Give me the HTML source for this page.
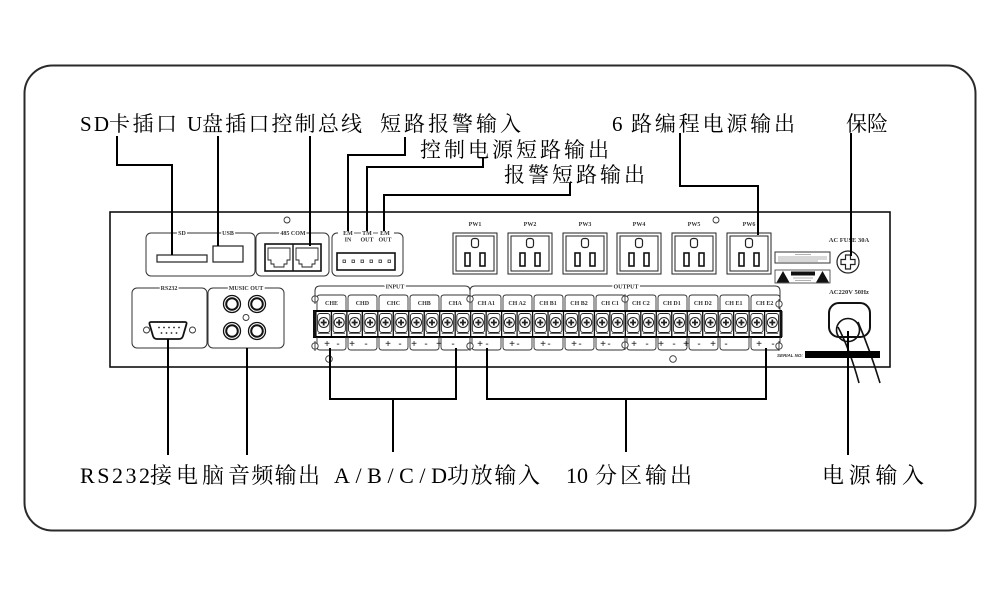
<!DOCTYPE html>
<html><head><meta charset="utf-8">
<style>
html,body{margin:0;padding:0;background:#fff;}
svg{display:block;}
.big{font-family:"Liberation Serif","Noto Serif CJK SC",serif;font-size:21px;fill:#000;}
.bot{font-family:"Liberation Serif","Noto Serif CJK SC",serif;font-size:22px;fill:#000;}
.sm{font-family:"Liberation Serif",serif;font-size:6px;font-weight:bold;fill:#333;text-anchor:middle;stroke:#fff;stroke-width:3px;paint-order:stroke;}
.pm{font-family:"Liberation Sans",sans-serif;font-size:10px;fill:#111;text-anchor:middle;}
</style></head>
<body>
<svg width="1000" height="595" viewBox="0 0 1000 595" xmlns="http://www.w3.org/2000/svg">
<defs>
<g id="t">
 <rect x="0" y="0" width="15.47" height="26" fill="#fff" stroke="#111" stroke-width="1.2"/>
 <rect x="1.6" y="2.5" width="12.3" height="19" rx="2.5" fill="none" stroke="#222" stroke-width="0.9"/>
 <circle cx="7.7" cy="11.5" r="5" fill="none" stroke="#222" stroke-width="1"/>
 <path d="M4.7 11.5h6M7.7 8.5v6" stroke="#222" stroke-width="1.8"/>
 <path d="M2 22.5h11.5" stroke="#444" stroke-width="0.8"/>
</g>
<g id="sock">
 <rect x="0" y="0" width="44" height="41" fill="#fff" stroke="#222" stroke-width="1"/>
 <rect x="3" y="3" width="38" height="35" fill="none" stroke="#222" stroke-width="1"/>
 <rect x="18.5" y="5.5" width="7" height="9" rx="2.5" fill="none" stroke="#222" stroke-width="1.2"/>
 <rect x="12" y="20" width="5" height="13" fill="none" stroke="#111" stroke-width="1.6"/>
 <rect x="27" y="20" width="5" height="13" fill="none" stroke="#111" stroke-width="1.6"/>
</g>
<g id="hole">
 <circle cx="0" cy="0" r="3.2" fill="#fff" stroke="#333" stroke-width="0.9"/>
 <path d="M0 -5V5" stroke="#333" stroke-width="0.9"/>
</g>
</defs>
<rect width="1000" height="595" fill="#fff"/>

<!-- outer frame -->
<rect x="24.5" y="65.5" width="951" height="465" rx="28" fill="none" stroke="#2a2a2a" stroke-width="2"/>

<!-- device panel -->
<rect x="110" y="212" width="780" height="155" fill="#fff" stroke="#111" stroke-width="1.6"/>

<circle cx="287" cy="220" r="3" fill="none" stroke="#333" stroke-width="0.9"/>
<circle cx="716" cy="220" r="3" fill="none" stroke="#333" stroke-width="0.9"/>

<!-- SD / USB box -->
<rect x="146" y="233" width="109" height="43" rx="5" fill="none" stroke="#333" stroke-width="1"/>
<text class="sm" x="182" y="235">SD</text>
<text class="sm" x="228" y="235">USB</text>
<rect x="157" y="255" width="50" height="7" fill="none" stroke="#222" stroke-width="1.2"/>
<rect x="213" y="246" width="30" height="16" fill="none" stroke="#222" stroke-width="1.2"/>

<!-- 485 COM -->
<rect x="256" y="233" width="73" height="43" rx="5" fill="none" stroke="#333" stroke-width="1"/>
<text class="sm" x="293" y="235">485 COM</text>
<rect x="265" y="244" width="56" height="27" fill="none" stroke="#111" stroke-width="1.6"/>
<path d="M293 244V271" stroke="#111" stroke-width="1.4"/>
<path d="M268 248H290V260H287V264H284V267H274V264H271V260H268Z" fill="none" stroke="#222" stroke-width="0.9"/>
<path d="M296 248H318V260H315V264H312V267H302V264H299V260H296Z" fill="none" stroke="#222" stroke-width="0.9"/>

<!-- EM box -->
<rect x="332" y="233" width="71" height="43" rx="5" fill="none" stroke="#333" stroke-width="1"/>
<rect x="338" y="229" width="56" height="7" fill="#fff"/>
<text class="sm" x="348" y="235" style="stroke-width:0">EM</text>
<text class="sm" x="348" y="241.5" style="stroke-width:0">IN</text>
<text class="sm" x="367" y="235" style="stroke-width:0">TM</text>
<text class="sm" x="367" y="241.5" style="stroke-width:0">OUT</text>
<text class="sm" x="385" y="235" style="stroke-width:0">EM</text>
<text class="sm" x="385" y="241.5" style="stroke-width:0">OUT</text>
<path d="M354 233h7M373 233h5" stroke="#333" stroke-width="0.8"/>
<rect x="337" y="253" width="58" height="17" fill="none" stroke="#111" stroke-width="1.6"/>
<g fill="none" stroke="#333" stroke-width="0.8">
<rect x="343" y="260" width="2.5" height="2.5"/><rect x="352" y="260" width="2.5" height="2.5"/>
<rect x="361" y="260" width="2.5" height="2.5"/><rect x="370" y="260" width="2.5" height="2.5"/>
<rect x="379" y="260" width="2.5" height="2.5"/><rect x="388" y="260" width="2.5" height="2.5"/>
</g>

<!-- PW sockets -->
<use href="#sock" x="453" y="233"/>
<use href="#sock" x="508" y="233"/>
<use href="#sock" x="563" y="233"/>
<use href="#sock" x="617" y="233"/>
<use href="#sock" x="672" y="233"/>
<use href="#sock" x="727" y="233"/>
<text class="sm" x="475" y="226">PW1</text>
<text class="sm" x="530" y="226">PW2</text>
<text class="sm" x="585" y="226">PW3</text>
<text class="sm" x="639" y="226">PW4</text>
<text class="sm" x="694" y="226">PW5</text>
<text class="sm" x="749" y="226">PW6</text>

<!-- warning labels -->
<rect x="775" y="252" width="55" height="11" fill="#fff" stroke="#333" stroke-width="1"/>
<path d="M795 254.5h16M778 257h49M778 259h49M778 261h40" stroke="#999" stroke-width="0.7"/>
<rect x="775" y="270" width="55" height="13" fill="#fff" stroke="#333" stroke-width="0.8"/>
<path d="M776.5 282.5L783 271L789.5 282.5Z" fill="#111"/>
<path d="M816 282.5L822.5 271L829 282.5Z" fill="#111"/>
<rect x="791" y="271.5" width="24" height="4" fill="#111"/>
<path d="M793 278h20M795 280.5h16" stroke="#999" stroke-width="0.7"/>

<!-- fuse -->
<text class="sm" x="849" y="242" style="font-size:6.5px">AC FUSE 30A</text>
<circle cx="848" cy="262" r="11" fill="#fff" stroke="#222" stroke-width="1.2"/>
<path d="M845.5 255H850.5V259.5H855V264.5H850.5V269H845.5V264.5H841V259.5H845.5Z" fill="#fff" stroke="#222" stroke-width="1.2"/>

<!-- power inlet -->
<text class="sm" x="849" y="294" style="font-size:6.5px">AC220V 50Hz</text>
<rect x="829" y="303" width="41" height="34" rx="10" fill="none" stroke="#111" stroke-width="2"/>
<circle cx="848" cy="330" r="11.5" fill="none" stroke="#111" stroke-width="1.6"/>
<path d="M838 327Q850 350 859 383" fill="none" stroke="#111" stroke-width="1.6"/>
<path d="M858 322Q870 350 880 383" fill="none" stroke="#111" stroke-width="1.6"/>

<!-- serial -->
<text x="777" y="357" style="font-family:'Liberation Sans',sans-serif;font-size:4.5px;font-weight:bold;font-style:italic;fill:#333">SERIAL NO:</text>
<rect x="805" y="351" width="75" height="7" fill="#000"/>

<!-- RS232 -->
<rect x="132" y="288" width="75" height="60" rx="5" fill="none" stroke="#333" stroke-width="1"/>
<text class="sm" x="169" y="290">RS232</text>
<path d="M151 322H185Q187 322 186.5 324L183 336Q182 339 179 339H157Q154 339 153 336L149.5 324Q149 322 151 322Z" fill="#fff" stroke="#111" stroke-width="1.8"/>
<g fill="#222">
<circle cx="159" cy="327.5" r="0.9"/><circle cx="164" cy="327.5" r="0.9"/><circle cx="169" cy="327.5" r="0.9"/><circle cx="174" cy="327.5" r="0.9"/><circle cx="179" cy="327.5" r="0.9"/>
<circle cx="161.5" cy="333" r="0.9"/><circle cx="166.5" cy="333" r="0.9"/><circle cx="171.5" cy="333" r="0.9"/><circle cx="176.5" cy="333" r="0.9"/>
</g>
<circle cx="146.5" cy="330" r="3" fill="none" stroke="#333" stroke-width="0.9"/>
<circle cx="192.5" cy="330" r="3" fill="none" stroke="#333" stroke-width="0.9"/>

<!-- MUSIC OUT -->
<rect x="208" y="288" width="76" height="60" rx="5" fill="none" stroke="#333" stroke-width="1"/>
<text class="sm" x="246" y="290">MUSIC OUT</text>
<g fill="none" stroke="#111">
<circle cx="232" cy="304" r="8.5" stroke-width="1.3"/><circle cx="232" cy="304" r="5.8" stroke-width="2"/>
<circle cx="257" cy="304" r="8.5" stroke-width="1.3"/><circle cx="257" cy="304" r="5.8" stroke-width="2"/>
<circle cx="232" cy="331" r="8.5" stroke-width="1.3"/><circle cx="232" cy="331" r="5.8" stroke-width="2"/>
<circle cx="257" cy="331" r="8.5" stroke-width="1.3"/><circle cx="257" cy="331" r="5.8" stroke-width="2"/>
</g>
<circle cx="246" cy="317.5" r="3" fill="none" stroke="#333" stroke-width="0.9"/>

<!-- INPUT / OUTPUT brackets -->
<path d="M315 297V291Q315 286 320 286H465Q470 286 470 291V297" fill="none" stroke="#333" stroke-width="1"/>
<path d="M470 297V291Q470 286 475 286H775Q780 286 780 291V301" fill="none" stroke="#333" stroke-width="1"/>
<text class="sm" x="395" y="288.5">INPUT</text>
<text class="sm" x="626" y="288.5">OUTPUT</text>

<!-- channel label boxes -->
<g fill="none" stroke="#333" stroke-width="0.9">
<path d="M317 311V298Q317 295 320 295H343Q346 295 346 298V311"/>
<path d="M348 311V298Q348 295 351 295H374Q377 295 377 298V311"/>
<path d="M379 311V298Q379 295 382 295H405Q408 295 408 298V311"/>
<path d="M410 311V298Q410 295 413 295H436Q439 295 439 298V311"/>
<path d="M441 311V298Q441 295 444 295H467Q470 295 470 298V311"/>
<path d="M472 311V298Q472 295 475 295H498Q501 295 501 298V311"/>
<path d="M503 311V298Q503 295 506 295H529Q532 295 532 298V311"/>
<path d="M534 311V298Q534 295 537 295H560Q563 295 563 298V311"/>
<path d="M565 311V298Q565 295 568 295H591Q594 295 594 298V311"/>
<path d="M596 311V298Q596 295 599 295H622Q625 295 625 298V311"/>
<path d="M627 311V298Q627 295 630 295H653Q656 295 656 298V311"/>
<path d="M658 311V298Q658 295 661 295H684Q687 295 687 298V311"/>
<path d="M689 311V298Q689 295 692 295H715Q718 295 718 298V311"/>
<path d="M720 311V298Q720 295 723 295H746Q749 295 749 298V311"/>
<path d="M751 311V298Q751 295 754 295H777Q780 295 780 298V311"/>
</g>
<g>
<text class="sm" x="331.5" y="305" style="stroke-width:0">CHE</text>
<text class="sm" x="362.4" y="305" style="stroke-width:0">CHD</text>
<text class="sm" x="393.4" y="305" style="stroke-width:0">CHC</text>
<text class="sm" x="424.3" y="305" style="stroke-width:0">CHB</text>
<text class="sm" x="455.2" y="305" style="stroke-width:0">CHA</text>
<text class="sm" x="486.2" y="305" style="stroke-width:0">CH A1</text>
<text class="sm" x="517.1" y="305" style="stroke-width:0">CH A2</text>
<text class="sm" x="548" y="305" style="stroke-width:0">CH B1</text>
<text class="sm" x="579" y="305" style="stroke-width:0">CH B2</text>
<text class="sm" x="610" y="305" style="stroke-width:0">CH C1</text>
<text class="sm" x="640.9" y="305" style="stroke-width:0">CH C2</text>
<text class="sm" x="671.8" y="305" style="stroke-width:0">CH D1</text>
<text class="sm" x="702.8" y="305" style="stroke-width:0">CH D2</text>
<text class="sm" x="733.7" y="305" style="stroke-width:0">CH E1</text>
<text class="sm" x="764.6" y="305" style="stroke-width:0">CH E2</text>
</g>

<!-- terminal strip -->
<use href="#t" x="316" y="311"/><use href="#t" x="331.47" y="311"/><use href="#t" x="346.94" y="311"/>
<use href="#t" x="362.41" y="311"/><use href="#t" x="377.88" y="311"/><use href="#t" x="393.35" y="311"/>
<use href="#t" x="408.82" y="311"/><use href="#t" x="424.29" y="311"/><use href="#t" x="439.76" y="311"/>
<use href="#t" x="455.23" y="311"/><use href="#t" x="470.7" y="311"/><use href="#t" x="486.17" y="311"/>
<use href="#t" x="501.64" y="311"/><use href="#t" x="517.11" y="311"/><use href="#t" x="532.58" y="311"/>
<use href="#t" x="548.05" y="311"/><use href="#t" x="563.52" y="311"/><use href="#t" x="578.99" y="311"/>
<use href="#t" x="594.46" y="311"/><use href="#t" x="609.93" y="311"/><use href="#t" x="625.4" y="311"/>
<use href="#t" x="640.87" y="311"/><use href="#t" x="656.34" y="311"/><use href="#t" x="671.81" y="311"/>
<use href="#t" x="687.28" y="311"/><use href="#t" x="702.75" y="311"/><use href="#t" x="718.22" y="311"/>
<use href="#t" x="733.69" y="311"/><use href="#t" x="749.16" y="311"/><use href="#t" x="764.63" y="311"/>
<rect x="314" y="311" width="467" height="26" fill="none" stroke="#000" stroke-width="2"/>
<rect x="313" y="311" width="3" height="26" fill="#111"/>
<rect x="779.5" y="311" width="3" height="26" fill="#111"/>

<!-- +/- boxes -->
<g fill="none" stroke="#333" stroke-width="0.9">
<path d="M317 337V347Q317 350 320 350H343Q346 350 346 347V337"/>
<path d="M348 337V347Q348 350 351 350H374Q377 350 377 347V337"/>
<path d="M379 337V347Q379 350 382 350H405Q408 350 408 347V337"/>
<path d="M410 337V347Q410 350 413 350H436Q439 350 439 347V337"/>
<path d="M441 337V347Q441 350 444 350H467Q470 350 470 347V337"/>
<path d="M472 337V347Q472 350 475 350H498Q501 350 501 347V337"/>
<path d="M503 337V347Q503 350 506 350H529Q532 350 532 347V337"/>
<path d="M534 337V347Q534 350 537 350H560Q563 350 563 347V337"/>
<path d="M565 337V347Q565 350 568 350H591Q594 350 594 347V337"/>
<path d="M596 337V347Q596 350 599 350H622Q625 350 625 347V337"/>
<path d="M627 337V347Q627 350 630 350H653Q656 350 656 347V337"/>
<path d="M658 337V347Q658 350 661 350H684Q687 350 687 347V337"/>
<path d="M689 337V347Q689 350 692 350H715Q718 350 718 347V337"/>
<path d="M720 337V347Q720 350 723 350H746Q749 350 749 347V337"/>
<path d="M751 337V347Q751 350 754 350H777Q780 350 780 347V337"/>
</g>
<g class="pm">
<text x="327" y="347">+</text><text x="338" y="347">-</text>
<text x="352" y="347">+</text><text x="366" y="347">-</text>
<text x="388" y="347">+</text><text x="400" y="347">-</text>
<text x="414" y="347">+</text><text x="426" y="347">-</text>
<text x="439" y="347">+</text><text x="453" y="347">-</text>
<text x="480" y="347">+</text><text x="487" y="347">-</text>
<text x="512" y="347">+</text><text x="518" y="347">-</text>
<text x="543" y="347">+</text><text x="549" y="347">-</text>
<text x="574" y="347">+</text><text x="580" y="347">-</text>
<text x="603" y="347">+</text><text x="609" y="347">-</text>
<text x="634" y="347">+</text><text x="647" y="347">-</text>
<text x="661" y="347">+</text><text x="674" y="347">-</text>
<text x="686" y="347">+</text><text x="699" y="347">-</text>
<text x="713" y="347">+</text><text x="726" y="347">-</text>
<text x="759" y="347">+</text><text x="773" y="347">-</text>
</g>

<!-- mounting holes -->
<use href="#hole" x="315" y="299"/><use href="#hole" x="315" y="346"/>
<use href="#hole" x="470" y="299"/><use href="#hole" x="470" y="346"/>
<use href="#hole" x="625" y="299"/><use href="#hole" x="625" y="345"/>
<use href="#hole" x="779" y="304"/><use href="#hole" x="779" y="346"/>
<circle cx="329" cy="359" r="3.3" fill="#fff" stroke="#333" stroke-width="0.9"/>
<circle cx="673" cy="359" r="3.3" fill="#fff" stroke="#333" stroke-width="0.9"/>

<!-- connector lines -->
<g fill="none" stroke="#000" stroke-width="2">
<path d="M117 136V165H172V255"/>
<path d="M218 136V246"/>
<path d="M310 136V246"/>
<path d="M405 137V155H348V231"/>
<path d="M483 158V167H367V231"/>
<path d="M570 183V195H384V231"/>
<path d="M680 133V186H758V235"/>
<path d="M851 133V256"/>
<path d="M168 339V455"/>
<path d="M247 348V455"/>
<path d="M330 348V399H456V348"/>
<path d="M393 399V452"/>
<path d="M487 348V399H766V348"/>
<path d="M626 399V452"/>
<path d="M848 331V455"/>
</g>

<!-- top labels -->
<text class="big" x="80" y="131" textLength="29" lengthAdjust="spacing">SD</text>
<text class="big" x="109" y="131" textLength="68" lengthAdjust="spacing">卡插口</text>
<text class="big" x="187" y="131" textLength="14" lengthAdjust="spacing">U</text>
<text class="big" x="202" y="131" textLength="160" lengthAdjust="spacing">盘插口控制总线</text>
<text class="big" x="380" y="131" textLength="141" lengthAdjust="spacing">短路报警输入</text>
<text class="big" x="612" y="131">6</text>
<text class="big" x="631" y="131" textLength="164" lengthAdjust="spacing">路编程电源输出</text>
<text class="big" x="846" y="131" textLength="42" lengthAdjust="spacing">保险</text>
<text class="big" x="420" y="157" textLength="189" lengthAdjust="spacing">控制电源短路输出</text>
<text class="big" x="504" y="182" textLength="141" lengthAdjust="spacing">报警短路输出</text>

<!-- bottom labels -->
<text class="bot" x="80" y="483" textLength="70" lengthAdjust="spacing">RS232</text>
<text class="bot" x="150" y="483" textLength="74" lengthAdjust="spacing">接电脑</text>
<text class="bot" x="228" y="483" textLength="92" lengthAdjust="spacing">音频输出</text>
<text class="bot" x="334" y="483" textLength="113" lengthAdjust="spacing">A/B/C/D</text>
<text class="bot" x="447" y="483" textLength="93" lengthAdjust="spacing">功放输入</text>
<text class="bot" x="566" y="483">10</text>
<text class="bot" x="595" y="483" textLength="97" lengthAdjust="spacing">分区输出</text>
<text class="bot" x="822" y="483" textLength="102" lengthAdjust="spacing">电源输入</text>
</svg>
</body></html>
